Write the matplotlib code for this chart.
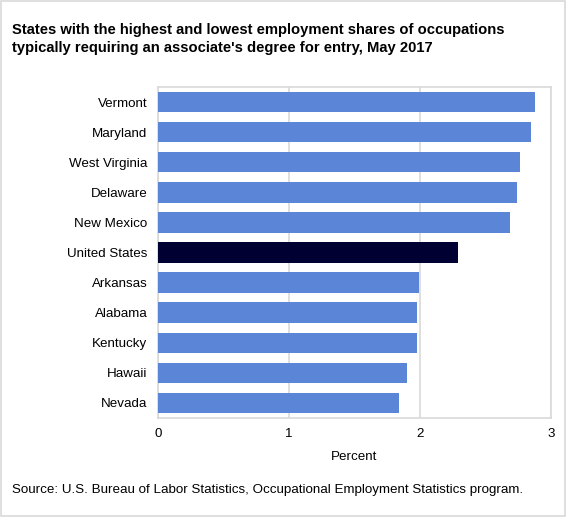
import matplotlib.pyplot as plt
from matplotlib.patches import Rectangle

plt.rcParams['font.family'] = ['Liberation Sans', 'DejaVu Sans']

# data, top to bottom
estados = ["Vermont", "Maryland", "West Virginia", "Delaware", "New Mexico",
           "United States", "Arkansas", "Alabama", "Kentucky", "Hawaii", "Nevada"]
porcentaje = [2.88, 2.85, 2.76, 2.74, 2.69, 2.29, 1.99, 1.98, 1.98, 1.90, 1.84]
ticks_x = [0, 1, 2, 3]

azul = "#5b85d6"
oscuro = "#000033"
gris = "#d9d9d9"

colores = [oscuro if e == "United States" else azul for e in estados]
pos = list(range(len(estados)))

fig = plt.figure(figsize=(5.66, 5.17), dpi=100, facecolor='w')
ax = fig.add_axes([158/566, 1-418/517, (551-158)/566, (418-87)/517])

ax.barh(pos, porcentaje, height=0.68, color=colores, zorder=3)
ax.set_ylim(len(estados)-0.5, -0.5)
ax.set_xlim(0, 3)
ax.set_yticks(pos)
ax.set_yticklabels(estados, fontsize=9.6)
ax.set_xticks(ticks_x)
ax.set_xticklabels([str(t) for t in ticks_x], fontsize=9.6)
ax.tick_params(axis='y', length=0, pad=7.5)
ax.tick_params(axis='x', length=0, pad=7)
ax.grid(True, axis='x', color=gris, linewidth=1.2, zorder=0)
for s in ax.spines.values():
    s.set_color(gris)
    s.set_linewidth(1.2)
ax.set_xlabel("Percent", fontsize=9.6, labelpad=8)

fig.text(12/566, 1-39/517,
         "States with the highest and lowest employment shares of occupations\n"
         "typically requiring an associate's degree for entry, May 2017",
         fontsize=10.6, fontweight='bold', va='center', ha='left', linespacing=1.45)
fig.text(12/566, 1-490/517,
         "Source: U.S. Bureau of Labor Statistics, Occupational Employment Statistics program.",
         fontsize=9.6, va='center', ha='left')

fig.patches.append(Rectangle((0.001, 0.001), 0.997, 0.997, transform=fig.transFigure,
                             fill=False, edgecolor=gris, linewidth=1.2))

fig.savefig("out.png", dpi=100)
